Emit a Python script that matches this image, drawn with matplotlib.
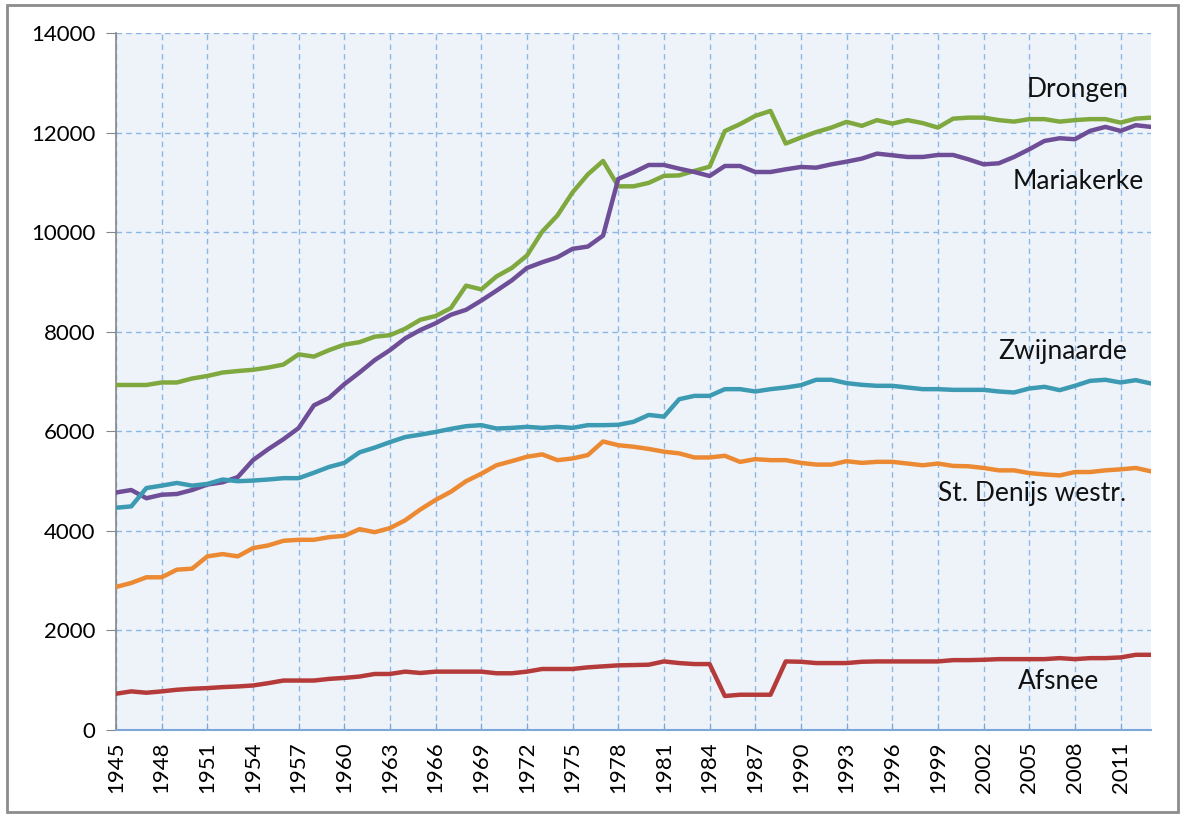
import matplotlib.pyplot as plt
import matplotlib.patches as mpatches
import numpy as np

plt.rcParams['font.family'] = ['Lato', 'DejaVu Sans']

## jaren (1945 - 2013)
years = np.arange(1945, 2014)

## inwonersaantallen per deelgemeente
drongen = [6930, 6930, 6930, 6980, 6980, 7060, 7110, 7180, 7210, 7235,
           7280, 7340, 7545, 7500, 7630, 7740, 7790, 7900, 7930, 8060,
           8240, 8315, 8475, 8925, 8850, 9110, 9280, 9530, 10010, 10335,
           10800, 11160, 11430, 10920, 10920, 10990, 11130, 11140, 11230, 11315,
           12030, 12170, 12335, 12435, 11780, 11900, 12010, 12100, 12215, 12135,
           12250, 12180, 12250, 12190, 12100, 12280, 12300, 12300, 12250, 12220,
           12270, 12270, 12220, 12250, 12270, 12270, 12200, 12280, 12300]

mariakerke = [4770, 4820, 4655, 4725, 4740, 4820, 4930, 4975, 5080, 5420,
              5640, 5840, 6065, 6520, 6670, 6946, 7180, 7430, 7630, 7866,
              8035, 8170, 8340, 8440, 8625, 8825, 9030, 9280, 9395, 9495,
              9665, 9710, 9930, 11070, 11200, 11349, 11349, 11275, 11208, 11128,
              11329, 11329, 11208, 11208, 11262, 11309, 11295, 11362, 11416, 11477,
              11577, 11544, 11510, 11510, 11550, 11550, 11463, 11362, 11383, 11510,
              11664, 11832, 11886, 11866, 12034, 12114, 12034, 12148, 12114]

zwijnaarde = [4464, 4491, 4860, 4908, 4962, 4908, 4942, 5031, 4997, 5010,
              5031, 5058, 5058, 5167, 5283, 5365, 5577, 5672, 5782, 5884,
              5932, 5986, 6048, 6102, 6123, 6055, 6068, 6089, 6068, 6089,
              6068, 6123, 6123, 6130, 6190, 6328, 6294, 6644, 6711, 6711,
              6846, 6846, 6799, 6846, 6879, 6926, 7034, 7034, 6967, 6933,
              6913, 6913, 6879, 6846, 6846, 6832, 6832, 6832, 6799, 6779,
              6859, 6893, 6826, 6913, 7013, 7034, 6980, 7027, 6960]

st_denijs = [2873, 2953, 3067, 3067, 3220, 3240, 3487, 3533, 3487, 3653,
             3707, 3800, 3820, 3820, 3873, 3900, 4034, 3973, 4055, 4212,
             4430, 4621, 4785, 4997, 5147, 5318, 5400, 5488, 5536, 5420,
             5454, 5522, 5795, 5720, 5690, 5645, 5590, 5556, 5474, 5474,
             5508, 5385, 5440, 5420, 5420, 5365, 5331, 5331, 5399, 5365,
             5386, 5386, 5352, 5317, 5352, 5304, 5297, 5263, 5215, 5215,
             5160, 5133, 5113, 5181, 5181, 5215, 5235, 5263, 5195]

afsnee = [728, 775, 748, 775, 808, 828, 841, 861, 874, 894,
          940, 993, 993, 993, 1026, 1046, 1073, 1125, 1125, 1172,
          1145, 1172, 1172, 1172, 1172, 1139, 1139, 1172, 1225, 1225,
          1225, 1258, 1278, 1298, 1304, 1311, 1377, 1344, 1324, 1324,
          682, 708, 708, 708, 1377, 1370, 1344, 1344, 1344, 1370,
          1377, 1377, 1377, 1377, 1377, 1403, 1403, 1410, 1423, 1423,
          1423, 1423, 1443, 1423, 1443, 1443, 1457, 1510, 1510]

## reeksen: naam, data, kleur, label positie (jaar, waarde)
series = [
    ('Drongen', drongen, '#7FA83F', (2008.2, 12860)),
    ('Mariakerke', mariakerke, '#6F4E98', (2008.2, 11010)),
    ('Zwijnaarde', zwijnaarde, '#3C9AB2', (2007.2, 7600)),
    ('St. Denijs westr.', st_denijs, '#EB8A33', (2005.2, 4750)),
    ('Afsnee', afsnee, '#B53B3B', (2006.9, 980)),
]

fig = plt.figure(figsize=(11.86, 8.19), dpi=100)
ax = fig.add_axes([0.0978, 0.1087, 0.8727, 0.851])
ax.set_facecolor('#EEF3FA')

for name, vals, color, pos in series:
    ax.plot(years, vals, color=color, lw=3.2, solid_joinstyle='round', zorder=3)
    ax.text(pos[0], pos[1], name, fontsize=19, ha='center', va='center',
            color='#111111', zorder=4)

ax.set_xlim(1945, 2013)
ax.set_ylim(0, 14000)
ax.set_xticks(np.arange(1945, 2013, 3))
ax.set_xticklabels([str(y) for y in range(1945, 2013, 3)], rotation=90, fontsize=16)
ax.set_yticks(np.arange(0, 14001, 2000))
ax.tick_params(axis='y', labelsize=16, length=7, color='#868686', pad=8)
ax.tick_params(axis='x', direction='in', length=5, color='#7FA6D9', pad=8)

ax.grid(True, color='#8DB6E4', linestyle=(0, (4, 3)), linewidth=1.0, zorder=1)
ax.set_axisbelow(True)

for s in ['top', 'right']:
    ax.spines[s].set_visible(False)
ax.spines['left'].set_color('#868686')
ax.spines['left'].set_linewidth(1.2)
ax.spines['bottom'].set_color('#7FA6D9')
ax.spines['bottom'].set_linewidth(1.5)

## kader rond grafiek
fig.patches.append(mpatches.Rectangle((7 / 1186, 1 - 812 / 819), 1171 / 1186, 807 / 819,
                                      transform=fig.transFigure, fill=False,
                                      edgecolor='#8C8C8C', linewidth=2))

plt.savefig('out.png', dpi=100)
